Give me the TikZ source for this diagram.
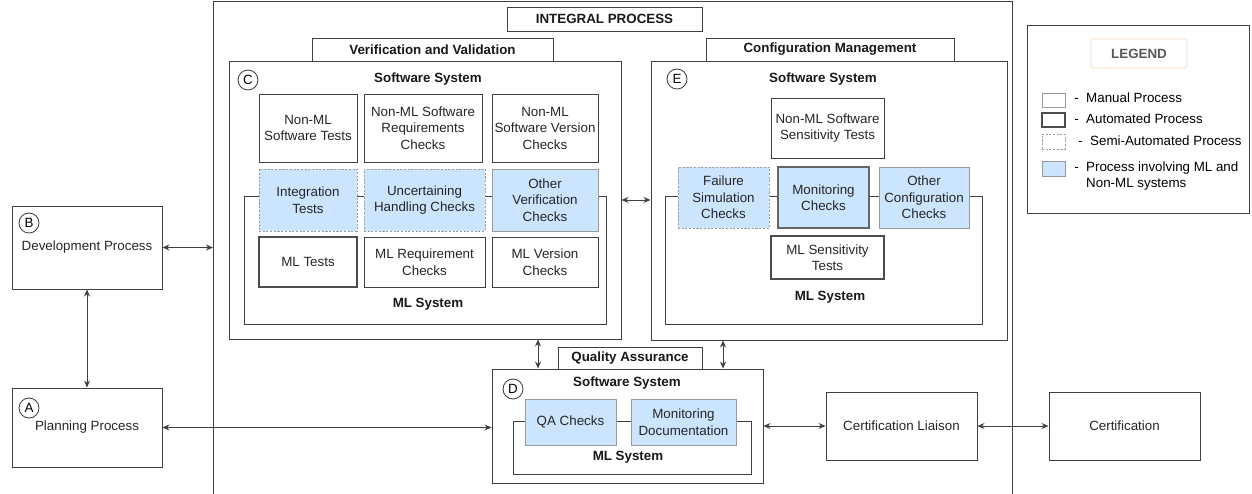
\documentclass[tikz,border=0pt]{standalone}
\usepackage{fontspec}
\setmainfont{Liberation Sans}
\usepackage{tikz}
\usetikzlibrary{arrows.meta}
\definecolor{mlblue}{HTML}{CCE5FF}
\definecolor{lineg}{HTML}{404040}
\definecolor{legpeach}{HTML}{F5DEC4}

\tikzset{
  wh/.style 2 args={minimum width=#1*0.02cm, minimum height=#2*0.02cm},
  proc/.style={draw=lineg, line width=0.5pt, fill=white, align=center, inner sep=0pt, text=black!85},
  autoproc/.style={proc, line width=1.1pt, draw=black!70},
  semiproc/.style={proc, draw=black!38, dash pattern=on 1.2pt off 0.9pt},
  mixproc/.style={fill=mlblue, draw=black!40},
  hdr/.style={font=\fontsize{7.6}{9.4}\selectfont\bfseries, text=black!90, inner sep=0pt},
  letter/.style={circle, draw=lineg, line width=0.5pt, fill=white, minimum size=20*0.02cm, inner sep=0pt},
  dbl/.style={{Stealth[length=4pt,width=3.4pt]}-{Stealth[length=4pt,width=3.4pt]}, draw=lineg, line width=0.5pt},
}

\begin{document}
\begin{tikzpicture}[x=0.02cm, y=-0.02cm, font=\fontsize{7.6}{9.4}\selectfont]
  \useasboundingbox (0,0) rectangle (1252,494);

  % integral process frame (open at the bottom)
  \draw[lineg, line width=0.5pt] (213,494) -- (213,1) -- (1012,1) -- (1012,494);
  \node[proc, hdr, wh={195}{24}] (intp) at (604.5,19) {INTEGRAL PROCESS};

  % left side processes
  \node[proc, wh={150}{83}] (B) at (87,247.5) {Development Process};
  \node[letter] (lB) at (29,223) {B};
  \node[proc, wh={150}{79}] (A) at (87,427.5) {Planning Process};
  \node[letter] (lA) at (29,408) {A};

  % verification and validation
  \node[proc, hdr, wh={241}{23}] (vv) at (432.5,49.5) {Verification and Validation};
  \node[proc, wh={392}{278}] (C) at (425,200) {};
  \node[letter] (lC) at (248,80) {C};
  \node[hdr] (ssC) at (428,79) {Software System};
  \node[proc, wh={362}{128}] (mlC) at (425,260) {};
  \node[hdr] (mlsC) at (428,304) {ML System};
  \node[proc, wh={98}{68}] (nmlt) at (308,128) {Non-ML\\Software Tests};
  \node[proc, wh={118}{68}] (nmlrc) at (423,128) {Non-ML Software\\Requirements\\Checks};
  \node[proc, wh={106}{68}] (nmlvc) at (545,128) {Non-ML\\Software Version\\Checks};
  \node[semiproc, fill=mlblue, wh={98}{62}] (intt) at (308,200) {Integration\\Tests};
  \node[semiproc, fill=mlblue, wh={121}{62}] (uhc) at (424.5,200) {Uncertaining\\Handling Checks};
  \node[proc, mixproc, wh={106}{62}] (ovc) at (545,200) {Other\\Verification\\Checks};
  \node[autoproc, wh={98}{50}] (mlt) at (308,262) {ML Tests};
  \node[proc, wh={121}{50}] (mlrc) at (424.5,262) {ML Requirement\\Checks};
  \node[proc, wh={106}{50}] (mlvc) at (545,262) {ML Version\\Checks};

  % configuration management
  \node[proc, hdr, wh={248}{23}] (cm) at (830,49.5) {Configuration Management};
  \node[proc, wh={356}{279}] (E) at (829,200.5) {};
  \node[letter] (lE) at (677,79) {E};
  \node[hdr] (ssE) at (823,79) {Software System};
  \node[proc, wh={317}{128}] (mlE) at (823.5,260) {};
  \node[hdr] (mlsE) at (830,297) {ML System};
  \node[proc, wh={113}{60}] (nmlst) at (827.5,128) {Non-ML Software\\Sensitivity Tests};
  \node[semiproc, fill=mlblue, wh={91}{61}] (fsc) at (723.5,197.5) {Failure\\Simulation\\Checks};
  \node[autoproc, fill=mlblue, draw=black!60, wh={91}{61}] (monc) at (823.5,197.5) {Monitoring\\Checks};
  \node[proc, mixproc, wh={90}{61}] (occ) at (924,197.5) {Other\\Configuration\\Checks};
  \node[autoproc, wh={113}{43}] (mlst) at (827.5,257.5) {ML Sensitivity\\Tests};

  % quality assurance
  \node[proc, hdr, wh={144}{22}] (qa) at (630,358) {Quality Assurance};
  \node[proc, wh={271}{114}] (D) at (627.5,426) {};
  \node[letter] (lD) at (513,389) {D};
  \node[hdr] (ssD) at (627,383) {Software System};
  \node[proc, wh={238}{53}] (mlD) at (632,447.5) {};
  \node[hdr] (mlsD) at (628,457) {ML System};
  \node[proc, mixproc, wh={91}{46}] (qac) at (570.5,422) {QA Checks};
  \node[proc, mixproc, wh={105}{46}] (mond) at (683.5,422) {Monitoring\\Documentation};

  % certification
  \node[proc, wh={151}{68}] (CL) at (901.5,426) {Certification Liaison};
  \node[proc, wh={151}{68}] (cert) at (1124.5,426) {Certification};

  % legend
  \node[proc, wh={222}{188}] (leg) at (1138,119) {};
  \node[proc, hdr, draw=legpeach, rounded corners=1pt, text=black!65, wh={96}{29}] (legt) at (1139,53.5) {LEGEND};
  \node[proc, draw=black!40, wh={23}{14}] (lman) at (1053.5,100) {};
  \node[anchor=west, inner sep=0pt] (lmant) at (1074,98) {-\ \ Manual Process};
  \node[autoproc, wh={23}{14}] (laut) at (1053.5,120) {};
  \node[anchor=west, inner sep=0pt] (lautt) at (1074,119) {-\ \ Automated Process};
  \node[semiproc, wh={23}{15}] (lsemi) at (1053.5,141.5) {};
  \node[anchor=west, inner sep=0pt] (lsemit) at (1078,141) {-\ \ Semi-Automated Process};
  \node[proc, mixproc, wh={23}{15}] (lmix) at (1053.5,168.5) {};
  \node[anchor=west, inner sep=0pt, align=left] (lmixt) at (1074,176) {-\ \ Process involving ML and\\\phantom{-\ \ }Non-ML systems};

  % connectors
  \coordinate (intl) at (213,248);
  \coordinate (ce) at (636,200);
  \coordinate (cdx) at (538,354);
  \coordinate (edx) at (723,354);
  \draw[dbl] (B.east) -- (B.east -| intl);
  \draw[dbl] (B.south) -- (A.north);
  \draw[dbl] (A.east) -- (A.east -| D.west);
  \draw[dbl] (C.east |- ce) -- (E.west |- ce);
  \draw[dbl] (C.south -| cdx) -- (D.north -| cdx);
  \draw[dbl] (E.south -| edx) -- (D.north -| edx);
  \draw[dbl] (D.east) -- (CL.west);
  \draw[dbl] (CL.east) -- (cert.west);
\end{tikzpicture}
\end{document}
